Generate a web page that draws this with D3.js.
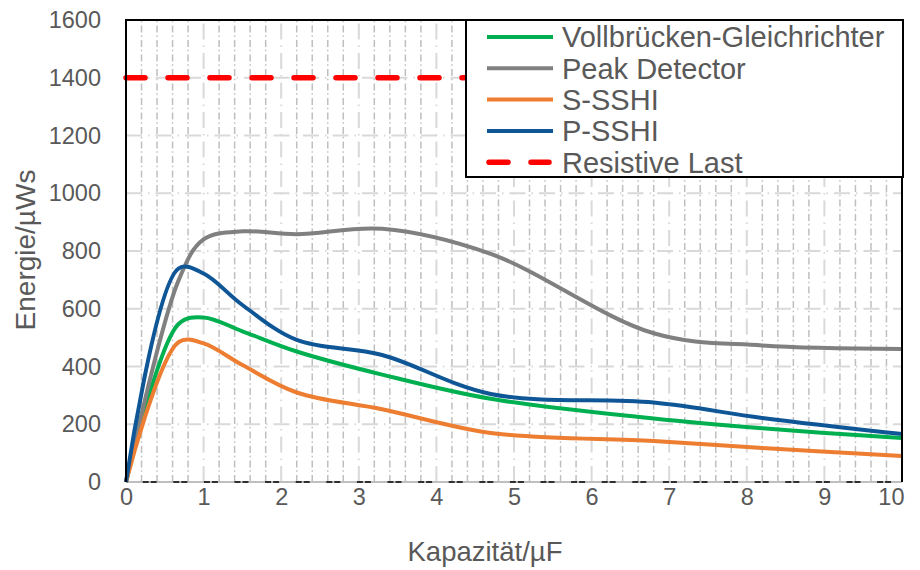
<!DOCTYPE html>
<html>
<head>
<meta charset="utf-8">
<script src="https://cdn.jsdelivr.net/npm/d3@7"></script>
<style>
  html, body { margin: 0; padding: 0; background: #fff; }
  svg text { font-family: Arial, "Liberation Sans", sans-serif; fill: #595959; }
</style>
</head>
<body>
<svg id="chart" width="920" height="570"></svg>
<script>
// Capacitance values (µF) at which the energy was evaluated
const capacitance = [0, 0.68, 1, 1.5, 2.2, 3.3, 4.7, 6.8, 8.2, 10];

// Harvested energy per rectifier topology (µWs)
const vollbrueckenValues = [0, 548, 570, 522, 452, 372, 288, 220, 186, 152];
const peakDetectorValues = [0, 700, 840, 868, 858, 877, 790, 515, 473, 461];
const sSshiValues        = [0, 485, 480, 405, 310, 252, 170, 142, 118, 90];
const pSshiValues        = [0, 740, 722, 613, 492, 440, 305, 275, 222, 166];

// Reference level for the resistive load
const resistiveLoad = 1400;

const seriesNames  = ["Vollbrücken-Gleichrichter", "Peak Detector", "S-SSHI", "P-SSHI", "Resistive Last"];
const seriesColors = ["#00b050", "#808080", "#ed7d31", "#0f5697", "#ff0000"];

const xTicks = [0, 1, 2, 3, 4, 5, 6, 7, 8, 9, 10];
const yTicks = [0, 200, 400, 600, 800, 1000, 1200, 1400, 1600];

const xTitle = "Kapazität/µF";
const yTitle = "Energie/µWs";

const svg = d3.select("#chart");
const plotLeft = 126, plotRight = 902, plotTop = 20, plotBottom = 482;

const x = d3.scaleLinear().domain([0, 10]).range([plotLeft, plotRight]);
const y = d3.scaleLinear().domain([0, 1600]).range([plotBottom, plotTop]);

// ---- grid ----
const grid = svg.append("g");
// minor vertical lines every 0.2 µF
const minorX = d3.range(1, 50).map(i => i * 0.2).filter(v => Math.abs(v - Math.round(v)) > 1e-6);
grid.selectAll("line.minx").data(minorX).enter().append("line")
  .attr("x1", d => x(d)).attr("x2", d => x(d))
  .attr("y1", plotBottom).attr("y2", plotTop)
  .attr("stroke", "#bfbfbf").attr("stroke-width", 1.5)
  .attr("stroke-dasharray", "7,3.2,1.5,2.8");
// major vertical lines at integer µF
grid.selectAll("line.majx").data(xTicks.slice(1, -1)).enter().append("line")
  .attr("x1", d => x(d)).attr("x2", d => x(d))
  .attr("y1", plotBottom).attr("y2", plotTop)
  .attr("stroke", "#d9d9d9").attr("stroke-width", 2)
  .attr("stroke-dasharray", "16,6,1.5,6");
// major horizontal lines
grid.selectAll("line.majy").data(yTicks.slice(1, -1)).enter().append("line")
  .attr("x1", plotLeft).attr("x2", plotRight)
  .attr("y1", d => y(d)).attr("y2", d => y(d))
  .attr("stroke", "#d9d9d9").attr("stroke-width", 2)
  .attr("stroke-dasharray", "16,6,1.5,6");

// ---- bottom axis line ----
svg.append("line")
  .attr("x1", plotLeft).attr("x2", plotRight).attr("y1", y(0)).attr("y2", y(0))
  .attr("stroke", "#bfbfbf").attr("stroke-width", 2);
svg.append("line")
  .attr("x1", plotLeft).attr("x2", plotRight).attr("y1", y(0)).attr("y2", y(0))
  .attr("stroke", "#000").attr("stroke-width", 1.5)
  .attr("stroke-dasharray", "6,2,6,16.6").attr("stroke-dashoffset", 13.9);

// ---- axes (labels only) ----
const xAxis = d3.axisBottom(x).tickValues(xTicks).tickSize(0).tickPadding(6).tickFormat(d3.format("d"));
const gx = svg.append("g").attr("transform", `translate(0,${plotBottom})`).call(xAxis);
gx.select(".domain").remove();
gx.selectAll("text").style("font-size", "23.5px").attr("fill", "#595959");
// keep the last label inside the drawing
gx.selectAll(".tick").filter(d => d === 10).select("text")
  .attr("text-anchor", "end").attr("x", 2);

const yAxis = d3.axisLeft(y).tickValues(yTicks).tickSize(0).tickPadding(25).tickFormat(d3.format("d"));
const gy = svg.append("g").attr("transform", `translate(${plotLeft},0)`).call(yAxis);
gy.select(".domain").remove();
gy.selectAll("text").style("font-size", "23.5px").attr("fill", "#595959");

// ---- series ----
const line = d3.line()
  .x(d => x(d[0])).y(d => y(d[1]))
  .curve(d3.curveCatmullRom.alpha(0.5));

const seriesValues = [vollbrueckenValues, peakDetectorValues, sSshiValues, pSshiValues];
const plot = svg.append("g");
seriesValues.forEach((vals, i) => {
  plot.append("path")
    .datum(capacitance.map((c, k) => [c, vals[k]]))
    .attr("d", line)
    .attr("fill", "none")
    .attr("stroke", seriesColors[i])
    .attr("stroke-width", 4)
    .attr("stroke-linejoin", "round");
});
// resistive load reference line
plot.append("line")
  .attr("x1", x(0)).attr("x2", x(10))
  .attr("y1", y(resistiveLoad)).attr("y2", y(resistiveLoad))
  .attr("stroke", seriesColors[4]).attr("stroke-width", 5.5)
  .attr("stroke-linecap", "round")
  .attr("stroke-dasharray", "19,23");

// ---- frame ----
svg.append("path")
  .attr("d", `M${plotLeft},${plotBottom}V${plotTop}H${plotRight}V${plotBottom}`)
  .attr("fill", "none").attr("stroke", "#000").attr("stroke-width", 2);

// ---- legend ----
const lg = svg.append("g").attr("transform", "translate(466,20)");
lg.append("rect").attr("width", 437).attr("height", 157)
  .attr("fill", "#fff").attr("stroke", "#000").attr("stroke-width", 2);
seriesNames.forEach((name, i) => {
  const cy = 17 + i * 31.3;
  const s = lg.append("line")
    .attr("x1", 21).attr("x2", 87).attr("y1", cy).attr("y2", cy)
    .attr("stroke", seriesColors[i]).attr("stroke-width", i === 4 ? 5.5 : 4)
    .attr("stroke-linecap", i === 4 ? "round" : "butt");
  if (i === 4) s.attr("x1", 23).attr("x2", 83).attr("stroke-dasharray", "19,23");
  lg.append("text")
    .attr("x", 96).attr("y", cy).attr("dy", "0.36em")
    .style("font-size", "29px")
    .text(name);
});

// ---- axis titles ----
svg.append("text")
  .attr("x", 485).attr("y", 551).attr("dy", "0.36em")
  .attr("text-anchor", "middle").style("font-size", "27.5px")
  .text(xTitle);
svg.append("text")
  .attr("transform", "translate(25,250) rotate(-90)")
  .attr("dy", "0.36em")
  .attr("text-anchor", "middle").style("font-size", "28px")
  .text(yTitle);
</script>
</body>
</html>
